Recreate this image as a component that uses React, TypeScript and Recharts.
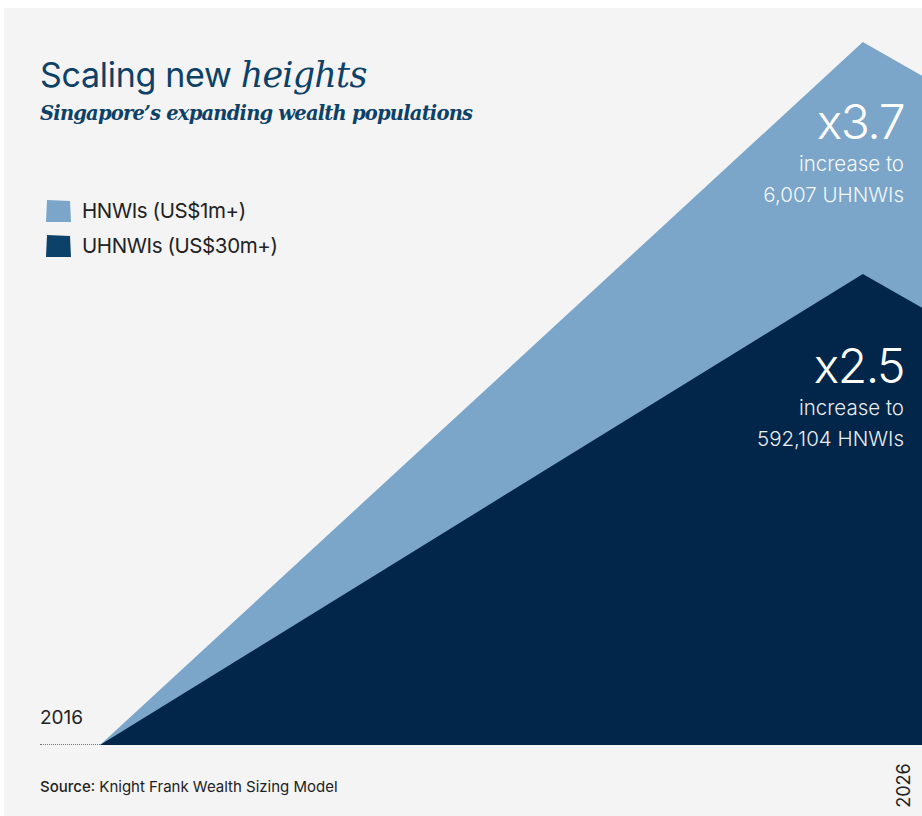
import { AreaChart, Area, XAxis, YAxis } from "recharts";

// shape of the two wedges (plot share of width / height)
const positions = [0, 92.8, 100];
const hnwiLevels = [0, 100, 95.2];
const uhnwiLevels = [0, 67, 62.2];

const seriesNames = ["HNWIs (US$1m+)", "UHNWIs (US$30m+)"];
const startYear = "2016";
const endYear = "2026";

const LIGHT = "#7ba6c9";
const DARK = "#012649";
const SWATCH_DARK = "#0c4169";
const TITLE = "#0d4168";
const SANS = "Inter, 'Liberation Sans', sans-serif";
const SERIF = "'DejaVu Serif', 'Liberation Serif', serif";

const data = positions.map((p, i) => ({ p, hnwi: hnwiLevels[i], uhnwi: uhnwiLevels[i] }));

function LegendBlock() {
  const colors = [LIGHT, SWATCH_DARK];
  return (
    <div style={{ position: "absolute", left: 44, top: 193, fontFamily: SANS }}>
      {seriesNames.map((name, i) => (
        <div key={name} style={{ display: "flex", alignItems: "center", height: 35 }}>
          <svg width={28} height={26} style={{ marginRight: 10 }}>
            <polygon points="2,24 3,2 26,3 27,24" fill={colors[i]} />
          </svg>
          <span style={{ fontSize: 20.5, color: "#222", letterSpacing: -0.4 }}>{name}</span>
        </div>
      ))}
    </div>
  );
}

function Callout({ top, big, line1, line2 }: { top: number; big: string; line1: string; line2: string }) {
  return (
    <div style={{ position: "absolute", right: 18, top, textAlign: "right", color: "#fff", fontFamily: SANS }}>
      <div style={{ fontSize: 48, fontWeight: 300, lineHeight: "52px", letterSpacing: -1.5 }}>{big}</div>
      <div style={{ fontSize: 20.5, fontWeight: 300, lineHeight: "31px", opacity: 0.92 }}>{line1}</div>
      <div style={{ fontSize: 20.5, fontWeight: 300, lineHeight: "31px", opacity: 0.92 }}>{line2}</div>
    </div>
  );
}

export default function App() {
  return (
    <div style={{ position: "absolute", left: 0, top: 0, width: 922, height: 816, background: "#fff", overflow: "hidden" }}>
      <div style={{ position: "absolute", left: 4, top: 8, width: 918, height: 808, background: "#f4f4f4" }} />

      <div style={{ position: "absolute", left: 0, top: 0 }}>
        <AreaChart width={922} height={816} data={data} margin={{ top: 42, right: 0, left: 100, bottom: 71 }}>
          <XAxis dataKey="p" type="number" domain={[0, 100]} hide />
          <YAxis type="number" domain={[0, 100]} hide />
          <Area type="linear" dataKey="hnwi" name={seriesNames[0]} stroke="none" fill={LIGHT} fillOpacity={1} isAnimationActive={false} />
          <Area type="linear" dataKey="uhnwi" name={seriesNames[1]} stroke="none" fill={DARK} fillOpacity={1} isAnimationActive={false} />
        </AreaChart>
      </div>

      <LegendBlock />

      <div style={{ position: "absolute", left: 40, top: 54, color: TITLE, whiteSpace: "nowrap" }}>
        <span style={{ fontFamily: SANS, fontSize: 34, letterSpacing: -0.3 }}>Scaling new </span>
        <span style={{ fontFamily: SERIF, fontSize: 35, fontStyle: "italic", letterSpacing: -0.8 }}>heights</span>
      </div>
      <div style={{ position: "absolute", left: 40, top: 102, color: TITLE, fontFamily: SERIF, fontSize: 19.5, fontStyle: "italic", fontWeight: 700, whiteSpace: "nowrap", letterSpacing: -0.8 }}>
        Singapore’s expanding wealth populations
      </div>

      <Callout top={96} big="x3.7" line1="increase to" line2="6,007 UHNWIs" />
      <Callout top={340} big="x2.5" line1="increase to" line2="592,104 HNWIs" />

      <div style={{ position: "absolute", left: 40, top: 706, fontFamily: SANS, fontSize: 19, color: "#222" }}>{startYear}</div>
      <div style={{ position: "absolute", left: 40, top: 744, width: 60, borderTop: "1px dotted #777" }} />
      <div style={{ position: "absolute", left: 878, top: 775, width: 50, fontFamily: SANS, fontSize: 18, color: "#222", transform: "rotate(-90deg)", transformOrigin: "center", textAlign: "center" }}>
        {endYear}
      </div>

      <div style={{ position: "absolute", left: 40, top: 777, fontFamily: SANS, fontSize: 15, color: "#222" }}>
        <span style={{ fontWeight: 500 }}>Source</span>: Knight Frank Wealth Sizing Model
      </div>
    </div>
  );
}
